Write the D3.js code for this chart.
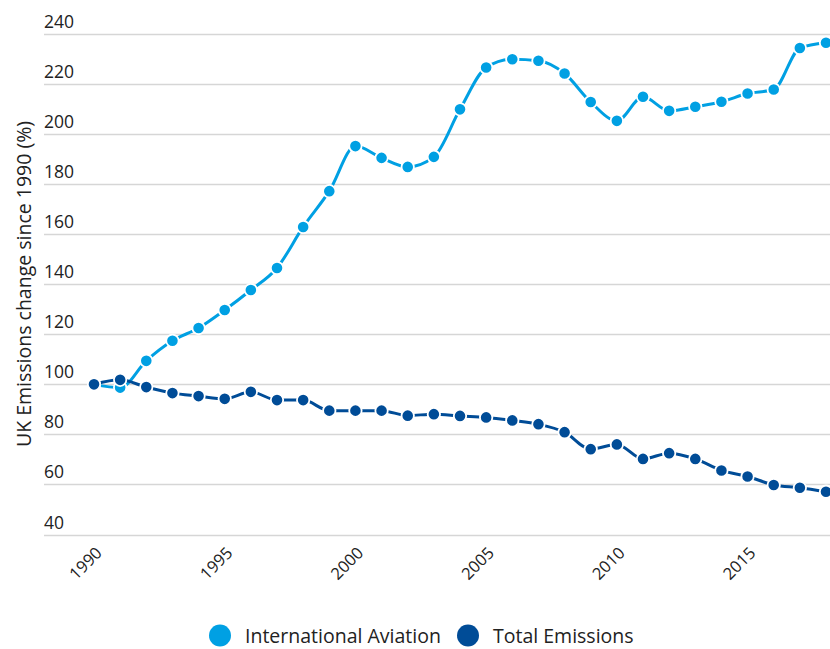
<!DOCTYPE html>
<html>
<head>
<meta charset="utf-8">
<script src="https://cdn.jsdelivr.net/npm/d3@7"></script>
<style>
  html, body { margin: 0; padding: 0; background: #ffffff; }
  svg { display: block; font-family: "Open Sans", "Noto Sans", sans-serif; }
</style>
</head>
<body>
<svg id="chart" width="830" height="649"></svg>
<script>
const years = [1990,1991,1992,1993,1994,1995,1996,1997,1998,1999,2000,2001,2002,2003,2004,2005,2006,2007,2008,2009,2010,2011,2012,2013,2014,2015,2016,2017,2018];
const aviation = [100,98.7,109.4,117.4,122.5,129.7,137.7,146.5,162.9,177.2,195.2,190.5,186.9,190.9,209.9,226.6,229.9,229.3,224.2,212.8,205.3,214.9,209.3,210.9,212.9,216.2,217.8,234.4,236.5];
const totalEmissions = [100,101.8,98.9,96.5,95.3,94.2,97,93.7,93.7,89.5,89.5,89.5,87.5,88.1,87.4,86.8,85.6,84.1,80.9,74.1,76,70.2,72.5,70.2,65.6,63.2,59.8,58.7,57.1];
const yTicks = [40,60,80,100,120,140,160,180,200,220,240];
const xTicks = [1990,1995,2000,2005,2010,2015];
const seriesNames = ["International Aviation","Total Emissions"];
const yAxisTitle = "UK Emissions change since 1990 (%)";

const colAviation = "#00a0e3";
const colTotal = "#004c97";

const svg = d3.select("#chart");
const x = d3.scaleLinear().domain([1990, 2018]).range([94, 826]);
const y = d3.scaleLinear().domain([40, 240]).range([534.5, 34]);
const plotLeft = 44, plotRight = 830;

// gridlines
svg.append("g").selectAll("line").data(yTicks).join("line")
  .attr("x1", plotLeft).attr("x2", plotRight)
  .attr("y1", d => Math.round(y(d)) + 0.5).attr("y2", d => Math.round(y(d)) + 0.5)
  .attr("stroke", "#d6d6d6").attr("stroke-width", 1.5);

// y tick labels
svg.append("g").selectAll("text").data(yTicks).join("text")
  .attr("x", 44).attr("y", d => y(d) - 6)
  .attr("font-size", 17.5).attr("fill", "#222")
  .text(d => d);

// y axis title
svg.append("text")
  .attr("transform", "translate(31,284) rotate(-90)")
  .attr("text-anchor", "middle")
  .attr("font-size", 19.5).attr("fill", "#222")
  .text(yAxisTitle);

// x tick labels
svg.append("g").selectAll("text").data(xTicks).join("text")
  .attr("transform", d => `translate(${x(d) + 9},${554}) rotate(-45)`)
  .attr("text-anchor", "end")
  .attr("font-size", 16.5).attr("fill", "#222")
  .text(d => d);

function drawSeries(vals, color) {
  const data = years.map((yr, i) => [yr, vals[i]]);
  const line = d3.line().x(d => x(d[0])).y(d => y(d[1])).curve(d3.curveMonotoneX);
  svg.append("path").datum(data)
    .attr("d", line).attr("fill", "none")
    .attr("stroke", color).attr("stroke-width", 3);
  svg.append("g").selectAll("circle").data(data).join("circle")
    .attr("cx", d => x(d[0])).attr("cy", d => y(d[1]))
    .attr("r", 6.2).attr("fill", color)
    .attr("stroke", "#ffffff").attr("stroke-width", 1.8);
}
drawSeries(aviation, colAviation);
drawSeries(totalEmissions, colTotal);

// legend
const legend = [
  {name: seriesNames[0], color: colAviation, cx: 220, tx: 245},
  {name: seriesNames[1], color: colTotal, cx: 468, tx: 493}
];
const lg = svg.append("g");
legend.forEach(l => {
  lg.append("circle").attr("cx", l.cx).attr("cy", 635.5).attr("r", 11).attr("fill", l.color);
  lg.append("text").attr("x", l.tx).attr("y", 642.5)
    .attr("font-size", 19.5).attr("fill", "#222").text(l.name);
});
</script>
</body>
</html>
